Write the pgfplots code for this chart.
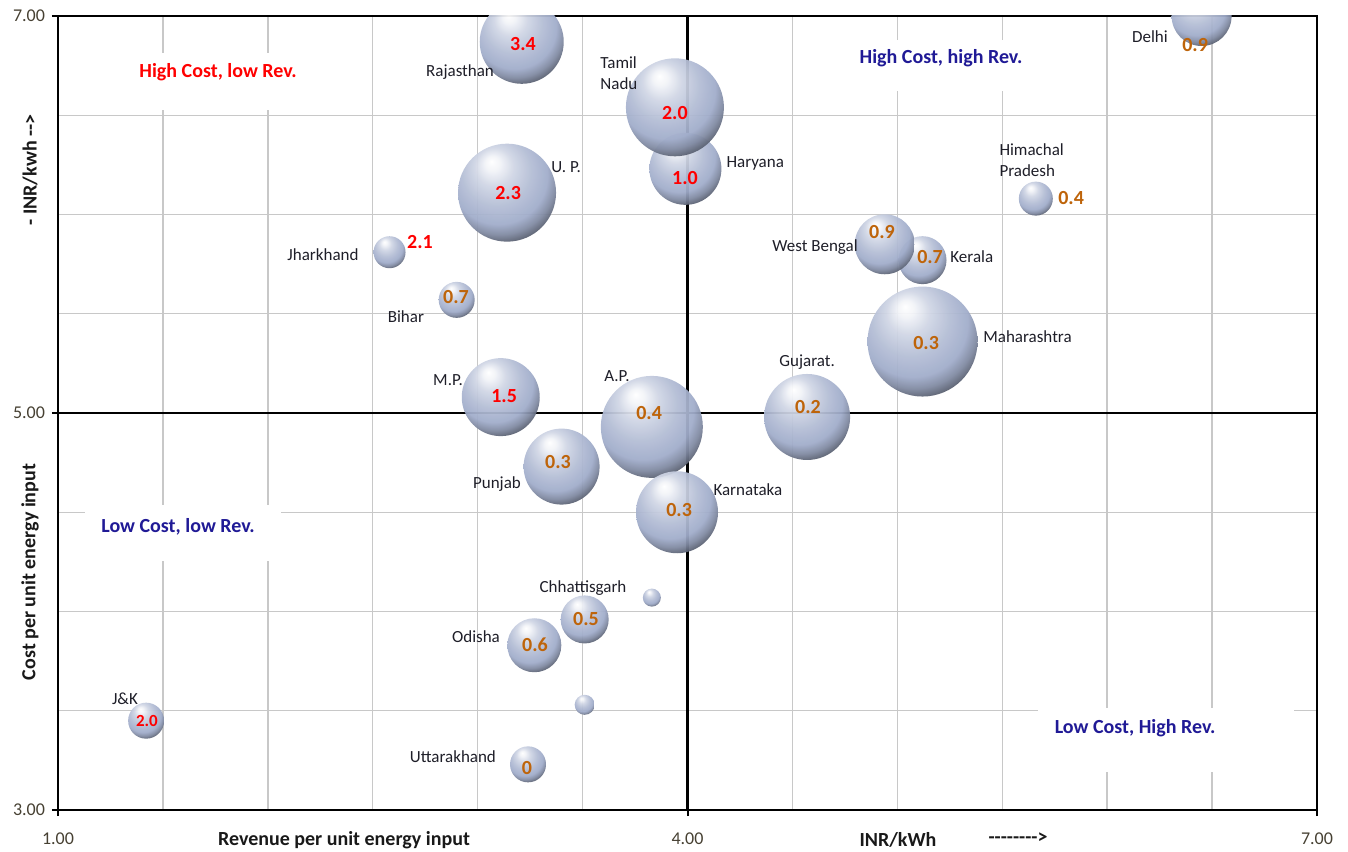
\documentclass[border=0pt]{standalone}
\usepackage{pgfplots}
\pgfplotsset{compat=1.18}
\usepackage{pgfplotstable}
\usepackage{fontspec}
\setmainfont{Carlito}[Ligatures=TeXOff]

\definecolor{bub}{RGB}{160,172,202}
\definecolor{gridgray}{RGB}{200,200,200}
\definecolor{numred}{RGB}{255,0,0}
\definecolor{numbrown}{RGB}{190,100,10}
\definecolor{quadblue}{RGB}{32,26,150}
\definecolor{namecol}{RGB}{30,30,40}
\definecolor{tickcol}{RGB}{70,64,50}

\tikzset{
  nm/.style={font=\fontsize{8.5}{10.5}\selectfont, text=namecol, inner sep=0pt},
  nr/.style={font=\fontsize{10}{11}\selectfont\bfseries, text=numred, inner sep=0pt},
  nb/.style={font=\fontsize{10}{11}\selectfont\bfseries, text=numbrown, inner sep=0pt},
  qd/.style={font=\fontsize{10}{11}\selectfont\bfseries, inner sep=0pt},
}

% shaded sphere used as bubble marker
\pgfdeclareradialshading{sphere}{\pgfpoint{-8bp}{16bp}}{%
  color(0bp)=(white);
  color(4bp)=(white!85!bub);
  color(10bp)=(bub!50!white);
  color(18bp)=(bub!80!white);
  color(25bp)=(bub);
  color(29bp)=(bub!80!black);
  color(33bp)=(bub!50!black);
  color(36bp)=(bub!30!black);
  color(56bp)=(bub!30!black)}
\pgfdeclareplotmark{sphere}{%
  \pgfsetfillopacity{0.94}%
  \pgfpathcircle{\pgfpointorigin}{\pgfplotmarksize}%
  \pgfshadepath{sphere}{0}%
  \pgfusepath{}%
}

% x = revenue, y = cost, r = bubble radius (pt)
\pgfplotstableread{
x     y     r
3.99  6.23  18
3.94  6.54  24.5
3.21  6.87  21
3.14  6.11  24.5
2.58  5.81  8
2.90  5.57  9
3.11  5.08  19.5
3.83  4.93  25.5
3.40  4.73  19
3.95  4.50  20.5
4.57  4.98  21.5
5.12  5.36  27.5
5.12  5.77  12
4.94  5.85  15
5.66  6.08  8.5
6.45  7.00  15
3.51  3.96  12
3.27  3.83  13.5
3.83  4.07  4.5
3.51  3.53  5
1.42  3.45  9
3.24  3.23  9
}\bubbles

\begin{document}
\begin{tikzpicture}
\useasboundingbox (-29pt,-20.5pt) rectangle (645pt,405pt);
\begin{axis}[
  scale only axis,
  width=629.5pt, height=397pt,
  xmin=1, xmax=7, ymin=3, ymax=7,
  xtick={1,4,7}, ytick={3,5,7},
  xticklabels={1.00,4.00,7.00},
  yticklabels={3.00,5.00,7.00},
  minor xtick={1.5,2,2.5,3,3.5,4.5,5,5.5,6,6.5},
  minor ytick={3.5,4,4.5,5.5,6,6.5},
  grid=both,
  major grid style={draw=gridgray, line width=0.7pt},
  minor grid style={draw=gridgray, line width=0.7pt},
  axis line style={line width=1.2pt},
  xtick pos=bottom, ytick pos=left,
  tick align=outside,
  major tick length=3pt, minor tick length=0pt,
  tick style={black, line width=1pt},
  ticklabel style={font=\fontsize{9}{10}\selectfont, text=tickcol},
  xticklabel style={yshift=-5pt},
  clip marker paths=true,
]
% quadrant captions on white patches
\fill[white] (axis cs:1.286,6.526) rectangle (axis cs:2.239,6.814);
\fill[white] (axis cs:4.751,6.622) rectangle (axis cs:5.680,6.879);
\fill[white] (axis cs:1.129,4.254) rectangle (axis cs:2.063,4.537);
\fill[white] (axis cs:5.670,3.191) rectangle (axis cs:6.891,3.514);
\node[qd, text=numred] at (axis cs:1.763,6.718) {High Cost, low Rev.};
\node[qd, text=quadblue] at (axis cs:5.208,6.788) {High Cost, high Rev.};
\node[qd, text=quadblue] at (axis cs:1.572,4.426) {Low Cost, low Rev.};
\node[qd, text=quadblue] at (axis cs:6.133,3.413) {Low Cost, High Rev.};

% quadrant dividers
\draw[black, line width=1.2pt] (axis cs:4,3) -- (axis cs:4,7);
\draw[black, line width=1.2pt] (axis cs:1,5) -- (axis cs:7,5);

\addplot[scatter, only marks, mark=sphere,
  visualization depends on={\thisrow{r} \as \perpointmarksize},
  scatter/@pre marker code/.append style={/tikz/mark size=\perpointmarksize},
] table[x=x, y=y] {\bubbles};

% state names
\node[nm] at (axis cs:2.916,6.718) {Rajasthan};
\node[nm, anchor=west, align=left] at (axis cs:3.583,6.713) {Tamil\\Nadu};
\node[nm, anchor=west] at (axis cs:3.349,6.239) {U. P.};
\node[nm, anchor=west] at (axis cs:4.184,6.259) {Haryana};
\node[nm] at (axis cs:2.263,5.796) {Jharkhand};
\node[nm] at (axis cs:2.658,5.484) {Bihar};
\node[nm] at (axis cs:2.859,5.166) {M.P.};
\node[nm] at (axis cs:3.664,5.186) {A.P.};
\node[nm] at (axis cs:3.092,4.642) {Punjab};
\node[nm, anchor=west] at (axis cs:4.122,4.612) {Karnataka};
\node[nm] at (axis cs:4.570,5.257) {Gujarat.};
\node[nm, anchor=west] at (axis cs:5.408,5.383) {Maharashtra};
\node[nm, anchor=east] at (axis cs:4.813,5.836) {West Bengal};
\node[nm, anchor=west] at (axis cs:5.251,5.786) {Kerala};
\node[nm, anchor=west, align=left] at (axis cs:5.485,6.275) {Himachal\\Pradesh};
\node[nm] at (axis cs:6.204,6.894) {Delhi};
\node[nm] at (axis cs:3.502,4.118) {Chhattisgarh};
\node[nm] at (axis cs:2.992,3.872) {Odisha};
\node[nm] at (axis cs:1.319,3.559) {J\&K};
\node[nm] at (axis cs:2.882,3.267) {Uttarakhand};

% figures shown on the bubbles
\node[nr] at (axis cs:3.216,6.859) {3.4};
\node[nr] at (axis cs:3.940,6.511) {2.0};
\node[nr] at (axis cs:3.988,6.184) {1.0};
\node[nr] at (axis cs:3.145,6.108) {2.3};
\node[nr] at (axis cs:2.725,5.861) {2.1};
\node[nb] at (axis cs:2.897,5.584) {0.7};
\node[nr] at (axis cs:3.126,5.086) {1.5};
\node[nb] at (axis cs:3.817,5.000) {0.4};
\node[nb] at (axis cs:3.383,4.753) {0.3};
\node[nb] at (axis cs:3.960,4.511) {0.3};
\node[nb] at (axis cs:4.574,5.030) {0.2};
\node[nb] at (axis cs:5.137,5.353) {0.3};
\node[nb] at (axis cs:4.927,5.912) {0.9};
\node[nb] at (axis cs:5.156,5.786) {0.7};
\node[nb] at (axis cs:5.828,6.083) {0.4};
\node[nb] at (axis cs:6.419,6.854) {0.9};
\node[nb] at (axis cs:3.516,3.962) {0.5};
\node[nb] at (axis cs:3.273,3.831) {0.6};
\node[nr, font=\fontsize{8.5}{10}\selectfont\bfseries] at (axis cs:1.424,3.448) {2.0};
\node[nb] at (axis cs:3.235,3.212) {0};
\end{axis}

% axis titles
\begin{scope}[font=\fontsize{10}{11}\selectfont\bfseries, text=black!90]
\node at (143pt,-15pt) {Revenue per unit energy input};
\node at (420pt,-15pt) {INR/kWh};
\node at (480pt,-14pt) {-------->};
\node[rotate=90] at (-14pt,119pt) {Cost per unit energy input};
\node[rotate=90] at (-14pt,320pt) {- INR/kwh -->};
\end{scope}
\end{tikzpicture}
\end{document}
